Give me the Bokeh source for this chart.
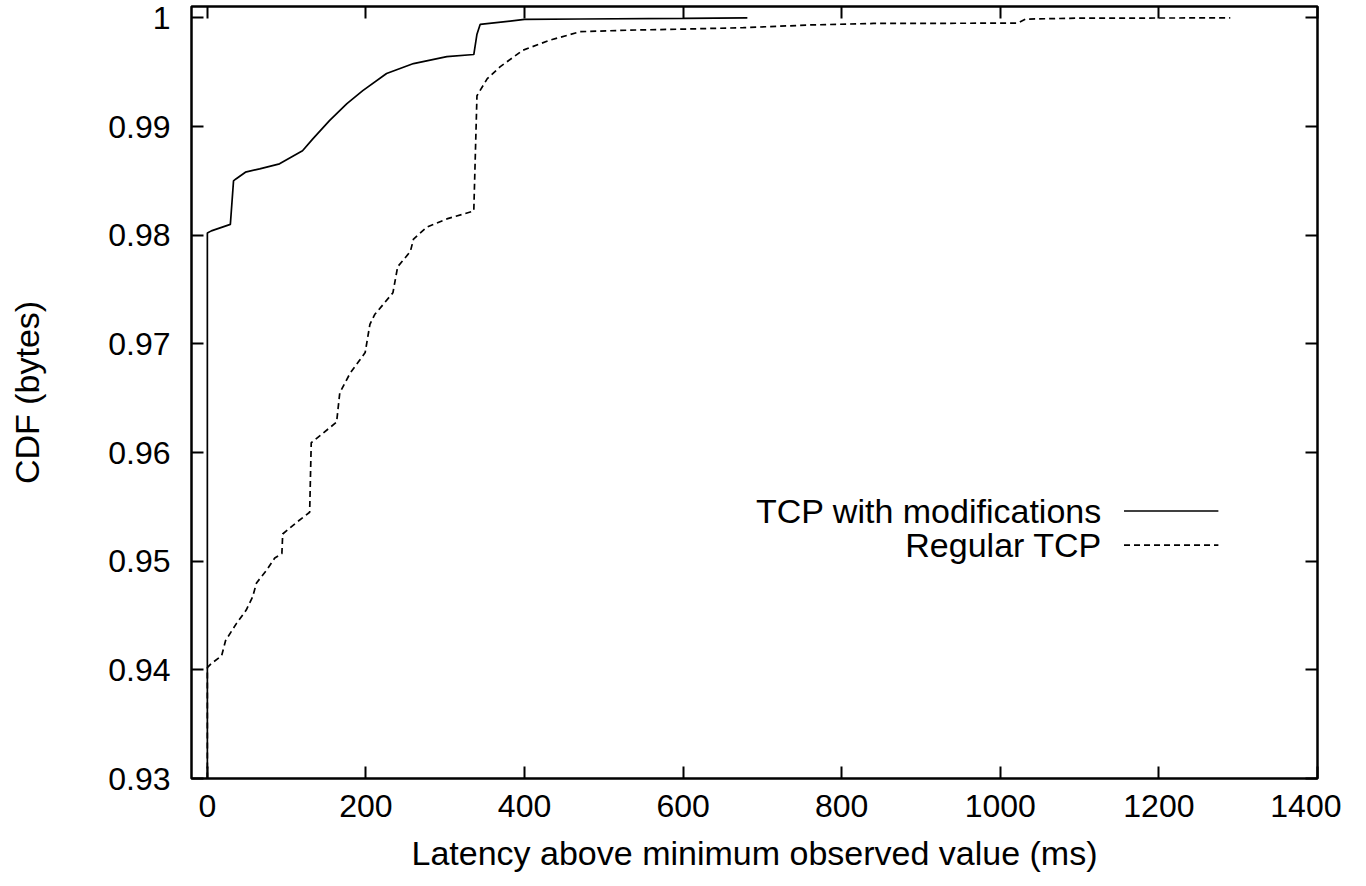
from bokeh.plotting import figure
from bokeh.models import FixedTicker, LinearAxis, Range1d, Label
from bokeh.embed import file_html
from bokeh.resources import INLINE

# ---- data ----
mod_x = [0, 0, 5, 29, 33, 36, 48, 66, 91, 120, 133, 154, 176, 196, 226, 260, 302, 336, 340, 344, 400, 471, 600, 681]
mod_y = [0.93, 0.9802, 0.9804, 0.9810, 0.9850, 0.98518, 0.9858, 0.98611, 0.98657, 0.98777, 0.98887, 0.99054,
         0.99211, 0.99331, 0.99488, 0.9958, 0.99644, 0.99663, 0.9985, 0.9994, 0.99986, 0.9999, 0.99995, 1.0]

reg_x = [0, 0, 5, 18, 23, 37, 49, 57, 62, 75, 85, 94, 95, 113, 129, 131, 163, 167, 180, 199, 205, 211, 234,
         240, 256, 260, 277, 302, 336, 340, 353, 369, 398, 432, 470, 530, 600, 676, 760, 840, 1022, 1032, 1100, 1290]
reg_y = [0.93, 0.9402, 0.94058, 0.9413, 0.9427, 0.9443, 0.9455, 0.9467, 0.948, 0.9492, 0.9503, 0.9507, 0.9525,
         0.9536, 0.9545, 0.9609, 0.9628, 0.9655, 0.9673, 0.9692, 0.9718, 0.9727, 0.9747, 0.9771, 0.9785, 0.97965,
         0.98075, 0.9815, 0.98223, 0.99284, 0.99441, 0.99549, 0.99703, 0.99795, 0.99873, 0.99887, 0.99897, 0.9991,
         0.99935, 0.99949, 0.99952, 0.99989, 0.99998, 1.0]

series_names = ["TCP with modifications", "Regular TCP"]
x_ticks = [0, 200, 400, 600, 800, 1000, 1200, 1400]
y_ticks = [0.93, 0.94, 0.95, 0.96, 0.97, 0.98, 0.99, 1.0]
y_tick_labels = ["0.93", "0.94", "0.95", "0.96", "0.97", "0.98", "0.99", "1"]
x_label = "Latency above minimum observed value (ms)"
y_label = "CDF (bytes)"

FONT = "Liberation Sans"
TICK_FS = "32px"
LABEL_FS = "34px"

p = figure(frame_width=1126, frame_height=772, output_backend="svg", toolbar_location=None,
           x_range=Range1d(-20, 1400), y_range=Range1d(0.93, 1.00105),
           min_border_left=191, min_border_top=6, min_border_right=24, min_border_bottom=0)
p.background_fill_color = "white"
p.border_fill_color = "white"
p.outline_line_color = "black"
p.outline_line_width = 2.5
p.xgrid.visible = False
p.ygrid.visible = False

p.line(mod_x, mod_y, line_color="black", line_width=1.7)
p.line(reg_x, reg_y, line_color="black", line_width=1.7, line_dash="6 4")

def style(ax, ticks, show_labels):
    ax.ticker = FixedTicker(ticks=ticks)
    ax.major_tick_in = 12
    ax.major_tick_out = 0
    ax.minor_tick_line_color = None
    ax.major_tick_line_width = 2
    ax.major_tick_line_color = "black"
    ax.axis_line_color = None
    ax.major_label_text_font = FONT
    ax.major_label_text_color = "black"
    ax.major_label_text_font_size = TICK_FS
    if not show_labels:
        ax.major_label_overrides = {t: "" for t in ticks}
        ax.major_label_standoff = 0

xa = p.xaxis[0]
ya = p.yaxis[0]
style(xa, x_ticks, True)
style(ya, y_ticks, True)
ya.major_label_overrides = {t: s for t, s in zip(y_ticks, y_tick_labels)}
xa.major_label_standoff = 16
ya.major_label_standoff = 21
xa.axis_label = x_label
ya.axis_label = y_label
for ax in (xa, ya):
    ax.axis_label_text_font = FONT
    ax.axis_label_text_font_size = LABEL_FS
    ax.axis_label_text_font_style = "normal"
    ax.axis_label_text_color = "black"
xa.axis_label_standoff = 14
ya.axis_label_standoff = 59

top = LinearAxis()
right = LinearAxis()
style(top, x_ticks, False)
style(right, y_ticks, False)
p.add_layout(top, "above")
p.add_layout(right, "right")

# ---- legend (gnuplot style: text then sample) ----
leg_text_x = 1128
leg_line_x0, leg_line_x1 = 1156, 1275
leg_y = [0.95462, 0.95148]
dashes = [None, "6 4"]
for name, yy, d in zip(series_names, leg_y, dashes):
    p.add_layout(Label(x=leg_text_x, y=yy, text=name, text_align="right", text_baseline="middle",
                       text_font=FONT, text_font_size=LABEL_FS, text_color="black"))
    if d is None:
        p.line([leg_line_x0, leg_line_x1], [yy, yy], line_color="black", line_width=1.7)
    else:
        p.line([leg_line_x0, leg_line_x1], [yy, yy], line_color="black", line_width=1.7, line_dash=d)

open("out.html", "w").write(file_html(p, INLINE))
